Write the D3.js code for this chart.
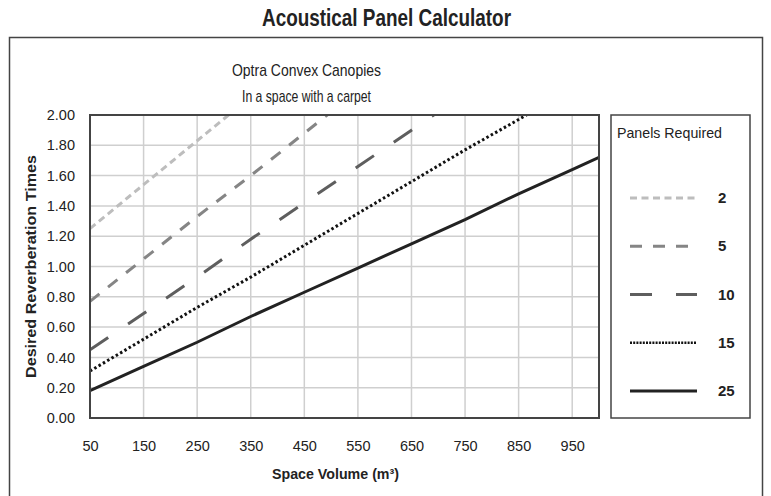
<!DOCTYPE html>
<html>
<head>
<meta charset="utf-8">
<script src="https://cdn.jsdelivr.net/npm/d3@7"></script>
<style>
  html, body { margin: 0; padding: 0; background: #fff; }
  svg { display: block; }
  text { font-family: "Liberation Sans", Arial, "Helvetica", sans-serif; fill: #222; }
</style>
</head>
<body>
<svg id="chart" width="771" height="496"></svg>
<script>
// ---- data ----
const xTicks = [50, 150, 250, 350, 450, 550, 650, 750, 850, 950];
const yTicks = [0, 0.2, 0.4, 0.6, 0.8, 1.0, 1.2, 1.4, 1.6, 1.8, 2.0];
const panels = ["2", "5", "10", "15", "25"];
const volumes2  = [50, 150, 250, 350];
const values2   = [1.25, 1.54, 1.83, 2.12];
const volumes5  = [50, 150, 250, 350, 450, 550];
const values5   = [0.77, 1.05, 1.33, 1.60, 1.88, 2.16];
const volumes10 = [50, 150, 250, 350, 450, 550, 650, 750];
const values10  = [0.45, 0.69, 0.93, 1.18, 1.42, 1.66, 1.90, 2.14];
const volumes15 = [50, 150, 250, 350, 450, 550, 650, 750, 850, 950];
const values15  = [0.31, 0.52, 0.73, 0.93, 1.14, 1.35, 1.56, 1.77, 1.97, 2.18];
const volumes25 = [50, 150, 250, 350, 450, 550, 650, 750, 850, 950, 1000];
const values25  = [0.18, 0.34, 0.50, 0.67, 0.83, 0.99, 1.15, 1.31, 1.48, 1.64, 1.72];

const seriesData = [
  { name: panels[0], xs: volumes2,  ys: values2,  color: "#bdbdbd", dash: "7,4.5" },
  { name: panels[1], xs: volumes5,  ys: values5,  color: "#858585", dash: "12,11" },
  { name: panels[2], xs: volumes10, ys: values10, color: "#5e5e5e", dash: "22,24" },
  { name: panels[3], xs: volumes15, ys: values15, color: "#111111", dash: "2.5,2.5" },
  { name: panels[4], xs: volumes25, ys: values25, color: "#222222", dash: null }
];

// ---- layout ----
const svg = d3.select("#chart");
const plot = { left: 90, right: 599, top: 115, bottom: 418 };

const x = d3.scaleLinear().domain([50, 1000]).range([plot.left, plot.right]);
const y = d3.scaleLinear().domain([0, 2]).range([plot.bottom, plot.top]);

function fitText(sel, len) {
  sel.attr("textLength", len).attr("lengthAdjust", "spacingAndGlyphs");
  return sel;
}

// main title
fitText(svg.append("text").attr("x", 386.5).attr("y", 26).attr("text-anchor", "middle")
  .attr("font-size", 23).attr("font-weight", "bold").attr("fill", "#1a1a1a").text("Acoustical Panel Calculator"), 249);

// outer frame
svg.append("rect").attr("x", 9.5).attr("y", 37.5).attr("width", 753).attr("height", 470)
  .attr("fill", "none").attr("stroke", "#444").attr("stroke-width", 1.5);

// subtitles
fitText(svg.append("text").attr("x", 306.5).attr("y", 76).attr("text-anchor", "middle")
  .attr("font-size", 17).attr("fill", "#1a1a1a").text("Optra Convex Canopies"), 149);
fitText(svg.append("text").attr("x", 306.5).attr("y", 102).attr("text-anchor", "middle")
  .attr("font-size", 17).attr("fill", "#333").text("In a space with a carpet"), 129);

// grid
const g = svg.append("g");
g.selectAll("line.vg").data(xTicks.slice(1)).enter().append("line")
  .attr("x1", d => x(d)).attr("x2", d => x(d)).attr("y1", plot.top).attr("y2", plot.bottom)
  .attr("stroke", "#cfcfcf").attr("stroke-width", 1.5);
g.selectAll("line.hg").data(yTicks.slice(1, -1)).enter().append("line")
  .attr("x1", plot.left).attr("x2", plot.right).attr("y1", d => y(d)).attr("y2", d => y(d))
  .attr("stroke", "#cfcfcf").attr("stroke-width", 1.5);

// axes (labels via d3 axes)
const xAxis = d3.axisBottom(x).tickValues(xTicks).tickSize(0).tickPadding(23).tickFormat(d3.format("d"));
const yAxis = d3.axisLeft(y).tickValues(yTicks).tickSize(0).tickPadding(15).tickFormat(d3.format(".2f"));
const gx = svg.append("g").attr("transform", `translate(0,${plot.bottom})`).call(xAxis);
const gy = svg.append("g").attr("transform", `translate(${plot.left},0)`).call(yAxis);
[gx, gy].forEach(a => {
  a.select(".domain").remove();
  a.selectAll("text").attr("font-size", 14.5).attr("fill", "#3a3a3a")
    .style("font-family", '"Liberation Sans", Arial, sans-serif');
});

// clip
svg.append("clipPath").attr("id", "clip").append("rect")
  .attr("x", plot.left).attr("y", plot.top).attr("width", plot.right - plot.left).attr("height", plot.bottom - plot.top);

const line = d3.line().x(d => x(d[0])).y(d => y(d[1]));
const lg = svg.append("g").attr("clip-path", "url(#clip)");
seriesData.forEach(s => {
  const pts = s.xs.map((v, i) => [v, s.ys[i]]);
  lg.append("path").datum(pts).attr("d", line)
    .attr("fill", "none").attr("stroke", s.color).attr("stroke-width", 3)
    .attr("stroke-dasharray", s.dash);
});

// plot border
svg.append("rect").attr("x", plot.left).attr("y", plot.top)
  .attr("width", plot.right - plot.left).attr("height", plot.bottom - plot.top)
  .attr("fill", "none").attr("stroke", "#444").attr("stroke-width", 2);

// axis titles
fitText(svg.append("text").attr("transform", `translate(36,${(plot.top + plot.bottom) / 2}) rotate(-90)`)
  .attr("text-anchor", "middle").attr("font-size", 15).attr("font-weight", "bold").attr("fill", "#222")
  .text("Desired Reverberation Times"), 223);
fitText(svg.append("text").attr("x", 335.5).attr("y", 479).attr("text-anchor", "middle")
  .attr("font-size", 15).attr("font-weight", "bold").attr("fill", "#222")
  .text("Space Volume (m³)"), 127);

// legend
svg.append("rect").attr("x", 611).attr("y", 115).attr("width", 139).attr("height", 303)
  .attr("fill", "#fff").attr("stroke", "#444").attr("stroke-width", 1.5);
fitText(svg.append("text").attr("x", 617).attr("y", 138).attr("font-size", 15).attr("fill", "#222")
  .text("Panels Required"), 105);
const legY = d3.scalePoint().domain(panels).range([198, 391]);
seriesData.forEach(s => {
  svg.append("line").attr("x1", 630).attr("x2", 697).attr("y1", legY(s.name)).attr("y2", legY(s.name))
    .attr("stroke", s.color).attr("stroke-width", s.name === "15" ? 2.5 : 3)
    .attr("stroke-dasharray", s.name === "15" ? "2,1.2" : s.dash);
  svg.append("text").attr("x", 718).attr("y", legY(s.name) + 5).attr("font-size", 15)
    .attr("font-weight", "bold").attr("fill", "#222").text(s.name);
});
</script>
</body>
</html>
